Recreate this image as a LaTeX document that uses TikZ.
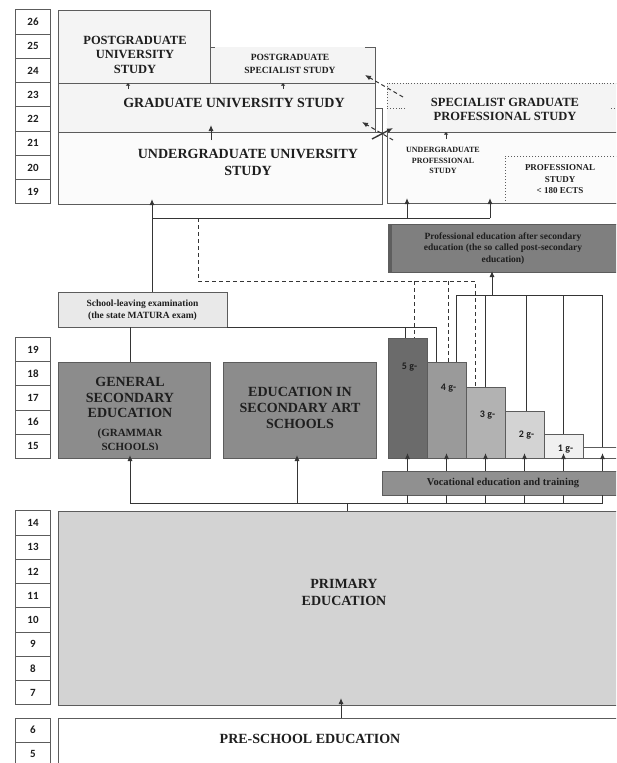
\documentclass[tikz,border=0pt]{standalone}
\usepackage{fontspec}
\setmainfont{Liberation Serif}
\newfontfamily\agefont{Carlito}
\usetikzlibrary{arrows.meta}
\usetikzlibrary{positioning}

\definecolor{edge}{HTML}{5C5C5C}
\definecolor{ink}{HTML}{1E1E1E}
\definecolor{paleFill}{HTML}{F4F4F4}
\definecolor{whiteFill}{HTML}{FBFBFB}
\definecolor{examFill}{HTML}{E9E9E9}
\definecolor{darkFill}{HTML}{8C8C8C}
\definecolor{postFill}{HTML}{7F7F7F}
\definecolor{postEdge}{HTML}{5E5E5E}
\definecolor{vocFill}{HTML}{909090}
\definecolor{primFill}{HTML}{D3D3D3}
\definecolor{gFive}{HTML}{6B6B6B}
\definecolor{gFour}{HTML}{9A9A9A}
\definecolor{gThree}{HTML}{B2B2B2}
\definecolor{gTwo}{HTML}{D3D3D3}
\definecolor{gOne}{HTML}{F0F0F0}

\tikzset{
  box/.style={draw=edge,line width=1pt,inner sep=0pt,outer sep=0pt,anchor=north west},
  agebox/.style={draw=edge,line width=1pt,minimum width=35pt,minimum height=24.25pt,
    inner sep=0pt,outer sep=0pt,text=ink,font=\agefont\bfseries\fontsize{11}{11}\selectfont},
  lbl/.style={align=center,inner sep=0pt,text=ink},
  bigtext/.style={lbl,font=\bfseries\fontsize{14}{16}\selectfont},
  uptext/.style={lbl,font=\bfseries\fontsize{12.5}{14.5}\selectfont},
  midtext/.style={lbl,font=\bfseries\fontsize{9.5}{13}\selectfont},
  smalltext/.style={lbl,font=\bfseries\fontsize{8}{10.5}\selectfont},
  notetext/.style={lbl,font=\bfseries\fontsize{9.5}{11.5}\selectfont},
  gtext/.style={lbl,font=\agefont\bfseries\fontsize{10}{10}\selectfont},
  conn/.style={draw=ink!90,line width=1pt},
  arr/.style={conn,-{Latex[length=6pt,width=5pt]}},
  tick/.style={conn,-{Latex[length=2.5pt,width=4.5pt]}},
  dsh/.style={conn,dash pattern=on 4pt off 3pt}
}

% box from top left corner to bottom right corner, in pixels
\newcommand{\eduBox}[6][]{%
  \node [box,#1,minimum width={(#5-#3)*1pt},minimum height={(#6-#4)*1pt}] (#2) at (#3,#4) {};}

\begin{document}
\begin{tikzpicture}[x=1pt,y=-1pt]
\useasboundingbox (0,0) rectangle (616,763);
\clip (0,0) rectangle (616,763);

% ages
\foreach \a [count=\i from 0] in {26,25,...,19}
  \node [agebox] (ageA\a) at (33,22.1+24.25*\i) {\a};
\foreach \a [count=\i from 0] in {19,18,...,15}
  \node [agebox] (ageB\a) at (33,349.6+24.2*\i) {\a};
\foreach \a [count=\i from 0] in {14,13,...,7}
  \node [agebox] (ageC\a) at (33,523.1+24.25*\i) {\a};
\foreach \a [count=\i from 0] in {6,5}
  \node [agebox,minimum height=24pt] (ageD\a) at (33,730+24*\i) {\a};

% university studies
\eduBox[fill=paleFill,draw=none]{pgs}{210}{47}{375}{83}
\eduBox[fill=paleFill]{pgu}{58}{10}{210}{83}
\eduBox[fill=paleFill]{grad}{58}{83}{375}{132}
\eduBox[fill=whiteFill]{ugu}{58}{132}{382}{204}
\draw [draw=edge,line width=1pt] (pgs.north west) -- ++(5,0);
\draw [draw=edge,line width=1pt] ([xshift=-10pt]pgs.north east) -- (pgs.north east) -- (pgs.south east);
\draw [draw=edge,line width=1pt] (ugu.north east) -- ++(0,-24) -- ++(-7,0);

\node [uptext] (tPgu) at (135,54.5) {POSTGRADUATE\\UNIVERSITY\\STUDY};
\node [midtext] (tPgs) at (290,63.5) {POSTGRADUATE\\SPECIALIST STUDY};
\node [bigtext] (tGrad) at (234,103) {GRADUATE UNIVERSITY STUDY};
\node [bigtext,font=\bfseries\fontsize{14}{17}\selectfont] (tUgu) at (248,162.5) {UNDERGRADUATE UNIVERSITY\\STUDY};

% professional studies
\eduBox[fill=paleFill,draw=none]{sgp}{387}{83}{620}{132}
\eduBox[fill=whiteFill]{ugp}{387}{132}{620}{203}
\eduBox[dotted]{ects}{505}{156}{620}{203}
\draw [draw=edge,line width=0.8pt,dotted] ([xshift=18pt,yshift=-25pt]sgp.north west) -- ([yshift=-25pt]sgp.north west)
  -- (sgp.north west) -- (sgp.north east);
\draw [draw=edge,line width=0.8pt,dotted] ([xshift=-9pt,yshift=-25pt]sgp.north east) -- ([yshift=-25pt]sgp.north east);

\node [uptext] (tSgp) at (505,109.5) {SPECIALIST GRADUATE\\PROFESSIONAL STUDY};
\node [smalltext] (tUgp) at (443,160.5) {UNDERGRADUATE\\PROFESSIONAL\\STUDY};
\node [lbl,font=\bfseries\fontsize{9}{11.5}\selectfont] (tEcts) at (560,179.5) {PROFESSIONAL\\STUDY\\< 180 ECTS};

% short ticks between study levels
\draw [tick] (128,89) -- (grad.north -| 128,0);
\draw [tick] (283,89) -- (grad.north -| 283,0);
\draw [tick] (446,139) -- (ugp.north -| 446,0);
\draw [arr] (211,140) -- (211,125);

% transfers
\draw [dsh,-{Latex[length=6pt,width=5pt]}] ([xshift=16pt,yshift=-14pt]sgp.north west) -- ([xshift=-10pt,yshift=-28pt]pgs.north east);
\draw [dsh,-{Latex[length=6pt,width=5pt]}] ([xshift=6pt,yshift=-8pt]ugp.north west) -- ([xshift=-13pt,yshift=10pt]grad.south east);
\draw [arr,line width=1.4pt] ([xshift=-10pt,yshift=-7pt]ugu.north east) -- ([xshift=6pt,yshift=4pt]sgp.south west);

% post-secondary and matura
\eduBox[fill=postFill]{post}{388}{224}{620}{272}
\fill [postEdge] (post.north west) rectangle ([xshift=4pt]post.south west);
\node [notetext] (tPost) at (503,248.5) {Professional education after secondary\\education (the so called post-secondary\\education)};
\eduBox[fill=examFill]{exam}{58}{292}{227}{327}
\node [notetext,font=\bfseries\fontsize{9.5}{12}\selectfont] (tExam) at (142.5,310) {School-leaving examination\\(the state MATURA exam)};

\coordinate (hubA) at (152,218);
\coordinate (hubB) at (407,218);
\coordinate (hubC) at (490,218);
\draw [conn] (exam.north -| hubA) -- (hubA) -- (hubC);
\draw [arr,shorten >=-5pt] (hubA) -- (hubA |- ugu.south);
\draw [arr,shorten >=-5pt] (hubB) -- (hubB |- ugp.south);
\draw [arr,shorten >=-5pt] (hubC) -- (hubC |- ugp.south);

% secondary schools
\eduBox[fill=darkFill]{gen}{58}{362}{210}{458}
\eduBox[fill=darkFill]{art}{223}{362}{376}{458}
\node [bigtext,font=\bfseries\fontsize{14}{15.5}\selectfont] (tGen) at (130,397.5) {GENERAL\\SECONDARY\\EDUCATION};
\begin{scope}
\clip (gen.north west) rectangle ([yshift=9pt]gen.south east);
\node [lbl,font=\bfseries\fontsize{11}{14}\selectfont] (tGram) at (130,441) {(GRAMMAR\\SCHOOLS)};
\end{scope}
\node [bigtext] (tArt) at (300,408) {EDUCATION IN\\SECONDARY ART\\SCHOOLS};

\foreach \n/\gy/\col in {5/338/gFive,4/362/gFour,3/387/gThree,2/411/gTwo,1/434/gOne,0/447/white}
{
  \pgfmathsetmacro\gx{388+39*(5-\n)}
  \eduBox[fill=\col]{g\n}{\gx}{\gy}{\gx+39}{458}
}
\foreach \n/\dy in {5/29pt,4/26pt,3/28pt,2/24pt,1/15pt}
  \node [gtext] (gl\n) at ([xshift=2pt,yshift=-\dy]g\n.north) {\n~g-};

% from secondary schools upwards
\coordinate (mA) at (405,327);
\coordinate (mB) at (436,327);
\draw [conn] (exam.south east) -- (mB) -- (mB |- g4.north);
\draw [conn] (mA) -- (mA |- g5.north);
\draw [conn] (exam.south -| 130,0) -- (gen.north -| 130,0);

\coordinate (dTop) at (198,218);
\coordinate (dEnd) at (475,281);
\coordinate (dA) at (414,281);
\coordinate (dB) at (448,281);
\draw [dsh] (dTop) |- (dEnd) -- (dEnd |- g3.north);
\draw [dsh] (dA) -- (dA |- g5.north);
\draw [dsh] (dB) -- (dB |- g4.north);

\coordinate (bUp) at (492,295);
\draw [conn] (456,295) -- (602,295);
\draw [arr,shorten >=-1pt] (bUp) -- (bUp |- post.south);
\foreach \x/\g in {456/4,485/3,526/2,563/1,602/0}
  \draw [conn] (\x,295) -- (g\g.north -| \x,0);

% vocational education
\eduBox[fill=vocFill]{voc}{382}{471}{620}{495}
\node [lbl,font=\bfseries\fontsize{10.5}{12}\selectfont] (tVoc) at (503,483) {Vocational education and training};
\foreach \n in {5,4,...,0}
{
  \draw [arr,shorten >=-5pt] (voc.north -| g\n.south) -- (g\n.south);
  \draw [conn] (voc.south -| g\n.south) -- ++(0,8);
}

% primary and pre-school
\eduBox[fill=primFill]{prim}{58}{511}{620}{705}
\eduBox[fill=white]{pre}{58}{718}{620}{780}
\node [bigtext,font=\bfseries\fontsize{14}{17}\selectfont] (tPrim) at (344,592) {PRIMARY\\EDUCATION};
\node [bigtext] (tPre) at (310,739) {PRE-SCHOOL EDUCATION};

\coordinate (busL) at (130,503);
\coordinate (busM) at (297,503);
\coordinate (busP) at (347,503);
\draw [conn] (busL) -- (busL -| g0.south);
\draw [conn] (busP) -- (busP |- prim.north);
\draw [arr,shorten >=-3pt] (busL) -- (busL |- gen.south);
\draw [arr,shorten >=-3pt] (busM) -- (busM |- art.south);
\coordinate (preUp) at (341,718);
\draw [arr,shorten >=-7pt] (preUp) -- (preUp |- prim.south);

\end{tikzpicture}
\end{document}
